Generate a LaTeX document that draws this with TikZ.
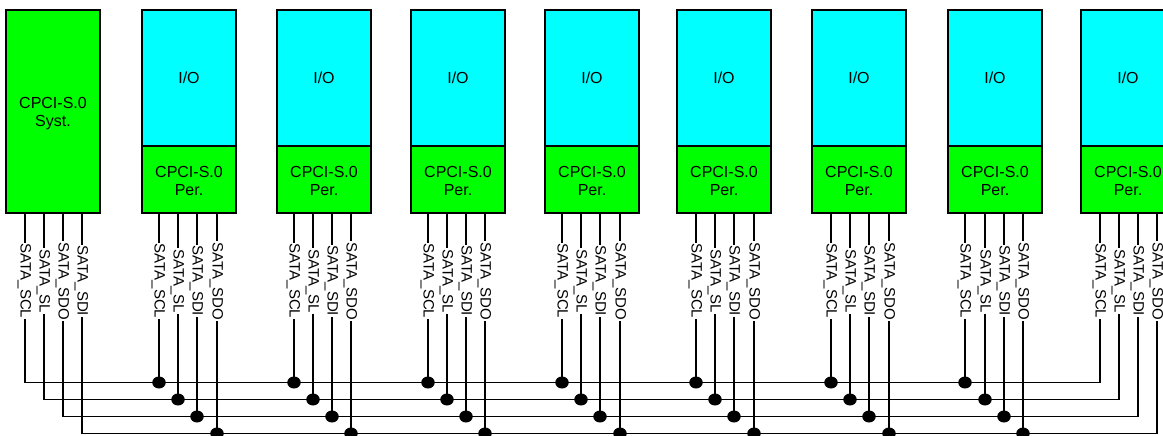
\documentclass[tikz,border=0pt]{standalone}
\usepackage{fontspec}
\setmainfont{Liberation Sans}
\usetikzlibrary{shapes.geometric}
\tikzset{
  wire/.style={draw=black,line width=1.7pt},
  boxbase/.style={draw=black,line width=1.6pt,minimum width=94pt,inner sep=0pt,outer sep=0pt,align=center,anchor=north west,
    font=\fontsize{16}{18}\selectfont},
  sysbox/.style={boxbase,fill=green,minimum height=203pt},
  iobox/.style={boxbase,fill=cyan,minimum height=136pt},
  perbox/.style={boxbase,fill=green,minimum height=67pt},
  siglabel/.style={rotate=-90,anchor=base,fill=white,inner xsep=1pt,inner ysep=0pt,
    font=\fontsize{15}{16}\selectfont,text height=11pt,text depth=3.5pt},
  joint/.style={ellipse,fill=black,draw=none,minimum width=13.5pt,minimum height=12pt,inner sep=0pt},
}
\definecolor{green}{RGB}{0,255,0}
\definecolor{cyan}{RGB}{0,255,255}
\begin{document}
\begin{tikzpicture}[x=1pt,y=-1pt]
\clip (0,0) rectangle (1163,436);
% system card
\node[sysbox] (sys) at (6,10) {\rule{0pt}{4pt}\\[-6pt]CPCI-S.0\\Syst.};
\foreach \k/\xx in {1/25,2/44,3/63,4/82}{
  \coordinate (s\k) at (\xx,213);
  \coordinate (t\k) at (\xx,382.5+17*\k-17);
}
% last card wires and buses, drawn first
\coordinate (e1) at (1100,382.5);
\coordinate (e2) at (1119,399.5);
\coordinate (e3) at (1138,416.5);
\coordinate (e4) at (1157,433.5);
\foreach \k in {1,2,3,4}{
  \draw[wire] (s\k) -- (t\k) -- (e\k) -- (e\k |- s\k);
}
\foreach \k/\xx/\txt in {1/25/SATA\_SCL,2/44/SATA\_SL,3/63/SATA\_SDO,4/82/SATA\_SDI}{
  \node[siglabel] (sl\k) at (\xx-4.5,281) {\txt};
}
% peripheral cards
\foreach \n/\lft/\a/\b/\c/\d in {
  1/142/159/178/197/217,
  2/277/294/313/332/351,
  3/411/428/447/466/485,
  4/545/562/581/600/620,
  5/677/696/715/734/754,
  6/812/831/850/869/889,
  7/948/965/985/1004/1023,
  8/1081/1100/1119/1138/1157}{
  \node[iobox] (io\n) at (\lft,10) {I/O};
  \node[perbox] (per\n) at (\lft,146) {\rule{0pt}{2pt}\\[-6pt]CPCI-S.0\\Per.};
  \ifnum\n<8
    \foreach \k/\xx in {1/\a,2/\b,3/\c,4/\d}{
      \node[joint] (j\n-\k) at (\xx,382.5+17*\k-17) {};
      \draw[wire] (\xx,213) -- (j\n-\k.center);
    }
  \fi
  \foreach \xx/\txt in {\a/SATA\_SCL,\b/SATA\_SL,\c/SATA\_SDI,\d/SATA\_SDO}{
    \node[siglabel] at (\xx-4.5,281) {\txt};
  }
}
\end{tikzpicture}
\end{document}
